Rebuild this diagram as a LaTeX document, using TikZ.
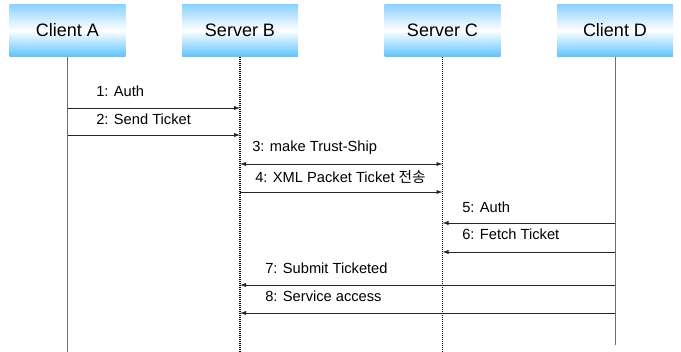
\documentclass[tikz,border=0pt]{standalone}
\usepackage{fontspec}
\setmainfont{Liberation Sans}
\newfontfamily\kr{Noto Sans CJK KR}
\usetikzlibrary{arrows.meta}
\definecolor{boxtop}{RGB}{140,210,255}
\definecolor{boxbot}{RGB}{95,195,255}
\definecolor{lifegray}{RGB}{110,110,110}
\tikzset{
  actor/.style={minimum width=87pt,minimum height=39pt,inner sep=0pt,
    top color=boxtop,bottom color=boxbot,middle color=white,
    font=\fontsize{13.5}{15}\selectfont},
  clientline/.style={draw=lifegray,line width=0.7pt},
  serverline/.style={draw=black,line width=1.1pt,dash pattern=on 0.6pt off 0.9pt},
  msg/.style={draw=black!85,line width=0.6pt,-{Latex[length=4.5pt,width=3.2pt]}},
  bimsg/.style={draw=black!85,line width=0.6pt,{Latex[length=4.5pt,width=3.2pt]}-{Latex[length=4.5pt,width=3.2pt]}},
  lbl/.style={anchor=west,inner sep=0pt,font=\fontsize{11}{13}\selectfont}
}
\begin{document}
\begin{tikzpicture}[x=0.75pt,y=-0.75pt]
\useasboundingbox (0,0) rectangle (681,352);
% actors
\node[actor] (A) at (67.5,30.5) {Client A};
\node[actor] (B) at (240,30.5) {Server B};
\node[actor] (C) at (442.5,30.5) {Server C};
\node[actor] (D) at (615,30.5) {Client D};
% lifeline ends
\coordinate (Ae) at (67.5,352);
\coordinate (Be) at (240,352);
\coordinate (Ce) at (442.5,352);
\coordinate (De) at (615,345);
\draw[clientline] (A.south) -- (Ae);
\draw[serverline] (B.south) -- (Be);
\draw[serverline] (C.south) -- (Ce);
\draw[clientline] (D.south) -- (De);
% messages
\node[lbl] (l1) at (96,91) {1: Auth};
\draw[msg] (A |- 0,108) -- (B |- 0,108);
\node[lbl] (l2) at (96,119) {2: Send Ticket};
\draw[msg] (A |- 0,135) -- (B |- 0,135);
\node[lbl] (l3) at (252,148) {3: make Trust-Ship};
\draw[bimsg] (B |- 0,164) -- (C |- 0,164);
\node[lbl] (l4) at (255,177) {4: XML Packet Ticket {\kr 전송}};
\draw[msg] (B |- 0,192) -- (C |- 0,192);
\node[lbl] (l5) at (462,207) {5: Auth};
\draw[msg] (D |- 0,223) -- (C |- 0,223);
\node[lbl] (l6) at (462,234) {6: Fetch Ticket};
\draw[msg] (D |- 0,252) -- (C |- 0,252);
\node[lbl] (l7) at (265,268) {7: Submit Ticketed};
\draw[msg] (D |- 0,285) -- (B |- 0,285);
\node[lbl] (l8) at (265,296) {8: Service access};
\draw[msg] (D |- 0,313) -- (B |- 0,313);
\end{tikzpicture}
\end{document}
